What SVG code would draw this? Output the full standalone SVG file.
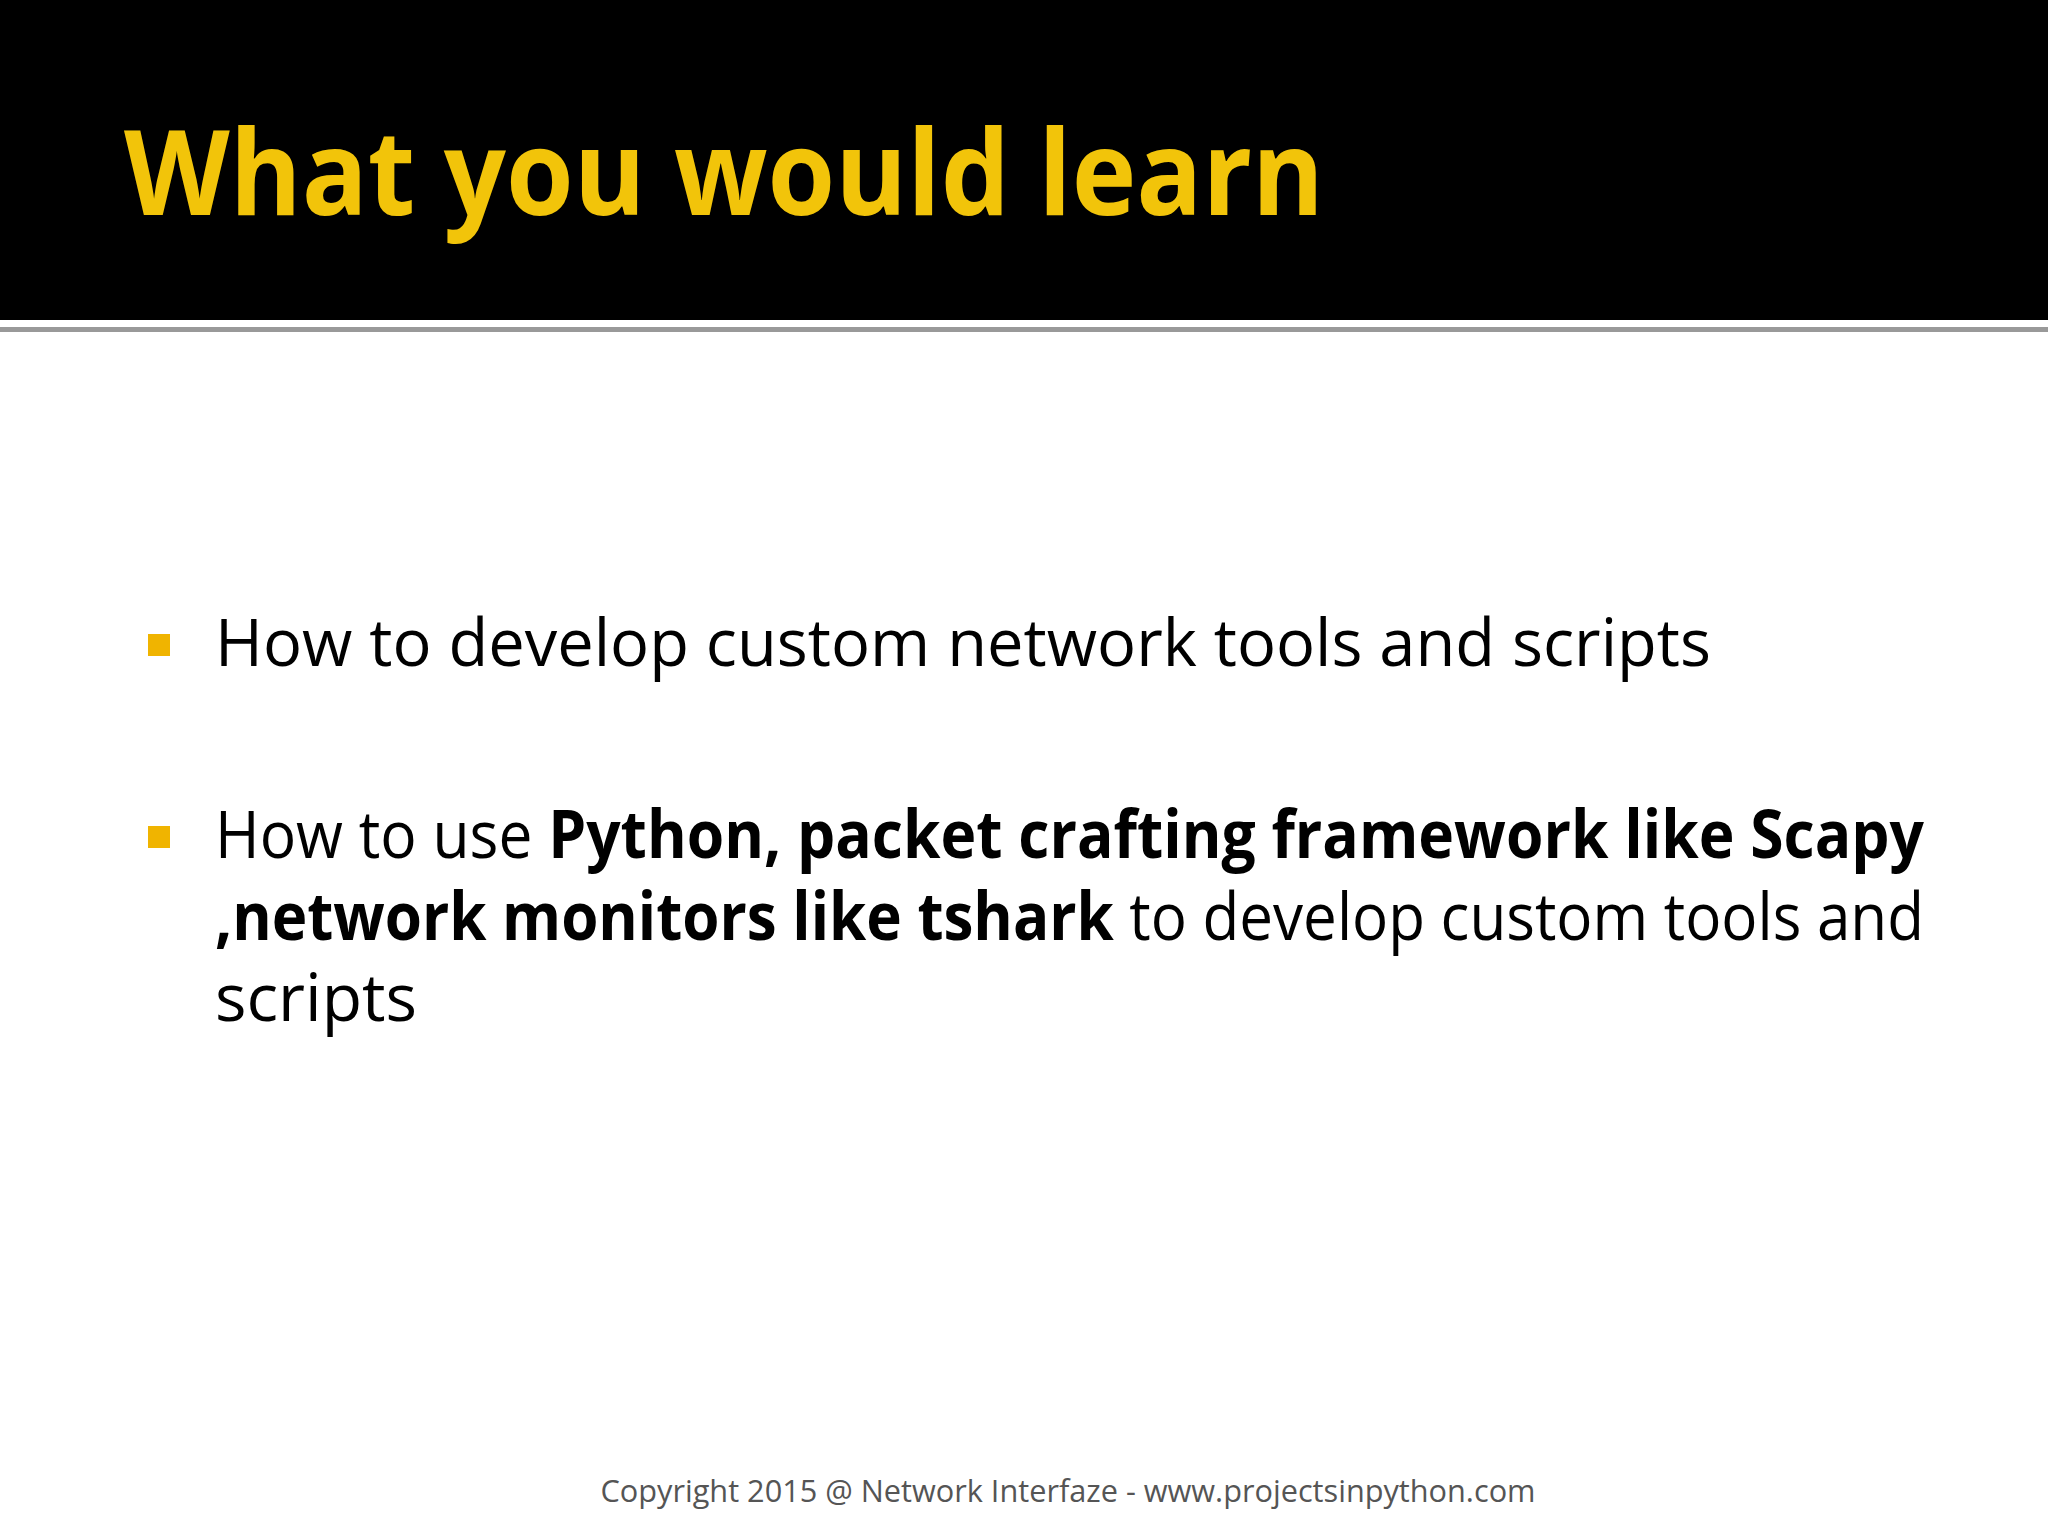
<svg xmlns="http://www.w3.org/2000/svg" width="2048" height="1536" viewBox="0 0 2048 1536">
<style>
.b{font-family:"Open Sans","Liberation Sans",sans-serif;font-size:66px;fill:#000}
.bb{font-weight:bold}
</style>
<rect width="2048" height="1536" fill="#fff"/>
<g id="header">
<rect x="0" y="0" width="2048" height="320" fill="#000"/>
<rect x="0" y="327" width="2048" height="5" fill="#999"/>
<text x="124" y="215" font-family="Open Sans, Liberation Sans, sans-serif" font-weight="bold" font-size="118" fill="#f2c40a" textLength="1200" lengthAdjust="spacingAndGlyphs">What you would learn</text>
</g>
<g id="bullet1">
<rect x="148" y="634" width="22" height="22" fill="#f0b400"/>
<text class="b" x="215" y="666" textLength="1496" lengthAdjust="spacingAndGlyphs">How to develop custom network tools and scripts</text>
</g>
<g id="bullet2">
<rect x="148" y="826" width="22" height="22" fill="#f0b400"/>
<text class="b" x="215" y="858" textLength="1709" lengthAdjust="spacingAndGlyphs">How to use  <tspan class="bb">Python, packet crafting framework like Scapy</tspan></text>
<text class="b" x="215" y="940" textLength="1709" lengthAdjust="spacingAndGlyphs"><tspan class="bb">,network monitors like tshark</tspan> to develop custom tools and</text>
<text class="b" x="215" y="1021">scripts</text>
</g>
<g id="footer">
<text x="1068" y="1502" text-anchor="middle" font-family="Open Sans, Liberation Sans, sans-serif" font-size="31" fill="#555" textLength="935" lengthAdjust="spacingAndGlyphs">Copyright 2015 @ Network Interfaze - www.projectsinpython.com</text>
</g>
</svg>
